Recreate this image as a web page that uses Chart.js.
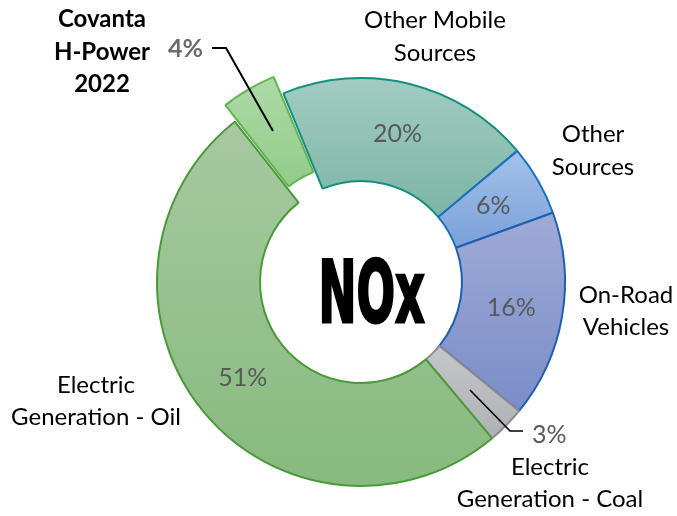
<!DOCTYPE html>
<html>
<head>
<meta charset="utf-8">
<script src="https://cdn.jsdelivr.net/npm/chart.js@4/dist/chart.umd.min.js"></script>
<style>
  html, body { margin: 0; padding: 0; background: #ffffff; }
  #wrap { width: 677px; height: 516px; position: relative; }
</style>
</head>
<body>
<div id="wrap"><canvas id="c" width="677" height="516"></canvas></div>
<script>
// ---- data ----
const categories = ['Covanta H-Power 2022', 'Other Mobile Sources', 'Other Sources', 'On-Road Vehicles', 'Electric Generation - Coal', 'Electric Generation - Oil'];
const labelLines = [['Covanta', 'H-Power', '2022'], ['Other Mobile', 'Sources'], ['Other', 'Sources'], ['On-Road', 'Vehicles'], ['Electric', 'Generation - Coal'], ['Electric', 'Generation - Oil']];
const shares = [4.4, 20.1, 5.6, 16.4, 3.0, 50.5];
const pctLabels = ['4%', '20%', '6%', '16%', '3%', '51%'];
const centerTitle = 'NOx';

// ---- styles ----
const fillTop    = ['#acd9a5', '#a1ccc1', '#a4c1ea', '#9fabd8', '#c5c6c9', '#a7c9a1'];
const fillBottom = ['#90cc86', '#7cb5a5', '#79a1d9', '#7a8dc7', '#b0b1b5', '#87ba7e'];
const borderCols = ['#62b552', '#13907f', '#1d6fbf', '#1f5fae', '#8a8b8e', '#4a9a3c'];
const RADIUS = 204;
const CUT = 0.495;
const ROTATION = -38.2;

function sliceFill(c) {
  const chart = c.chart, a = chart.chartArea, i = c.dataIndex;
  if (i === undefined) return '#cccccc';
  if (!a) return fillTop[i];
  const cx = (a.left + a.right) / 2, cy = (a.top + a.bottom) / 2;
  const R = RADIUS, r = RADIUS * CUT;
  const tot = shares.reduce((s, v) => s + v, 0);
  let start = ROTATION;
  for (let k = 0; k < i; k++) start += shares[k] / tot * 360;
  const end = start + shares[i] / tot * 360;
  let y0 = Infinity, y1 = -Infinity;
  for (let t = 0; t <= 40; t++) {
    const ang = (start + (end - start) * t / 40 - 90) * Math.PI / 180;
    for (const rr of [r, R]) {
      const y = cy + Math.sin(ang) * rr;
      y0 = Math.min(y0, y); y1 = Math.max(y1, y);
    }
  }
  const g = chart.ctx.createLinearGradient(0, y0, 0, y1);
  g.addColorStop(0, fillTop[i]);
  g.addColorStop(1, fillBottom[i]);
  return g;
}

const labelPlugin = {
  id: 'labels',
  afterDatasetsDraw(chart) {
    const ctx = chart.ctx;
    const a = chart.chartArea;
    const cx = (a.left + a.right) / 2, cy = (a.top + a.bottom) / 2;
    const meta = chart.getDatasetMeta(0);
    ctx.save();
    // inside percentages
    ctx.fillStyle = '#595959';
    ctx.font = '25px Lato';
    ctx.textAlign = 'center';
    ctx.textBaseline = 'middle';
    [1, 2, 3, 5].forEach(i => {
      const el = meta.data[i];
      const mid = (el.startAngle + el.endAngle) / 2;
      const rr = (el.innerRadius + el.outerRadius) / 2;
      ctx.fillText(pctLabels[i], el.x + Math.cos(mid) * rr, el.y + Math.sin(mid) * rr);
    });
    // category labels
    ctx.textBaseline = 'alphabetic';
    ctx.fillStyle = '#000000';
    const spots = [
      [cx - 259, [cy - 255, cy - 222, cy - 190]],
      [cx + 74, [cy - 254, cy - 221]],
      [cx + 232, [cy - 140, cy - 107]],
      [cx + 265, [cy + 21, cy + 53]],
      [cx + 189, [cy + 193, cy + 225]],
      [cx - 265, [cy + 111, cy + 143]]
    ];
    spots.forEach((s, i) => {
      ctx.font = (i === 0 ? 'bold ' : '') + '24px Lato';
      labelLines[i].forEach((ln, j) => ctx.fillText(ln, s[0], s[1][j]));
    });
    // outside percentages
    ctx.textAlign = 'left';
    ctx.font = 'bold 25px Lato';
    ctx.fillStyle = '#6b6b6b';
    ctx.fillText(pctLabels[0], cx - 193, cy - 225);
    ctx.font = '25px Lato';
    ctx.fillStyle = '#595959';
    ctx.fillText(pctLabels[4], cx + 171, cy + 161);
    // leader lines
    ctx.strokeStyle = '#000000';
    ctx.lineWidth = 2;
    ctx.beginPath();
    ctx.moveTo(cx - 149, cy - 234);
    ctx.lineTo(cx - 135, cy - 234);
    ctx.lineTo(cx - 88, cy - 151);
    ctx.stroke();
    ctx.lineWidth = 1.6;
    ctx.beginPath();
    ctx.moveTo(cx + 109, cy + 108);
    ctx.lineTo(cx + 149, cy + 149);
    ctx.lineTo(cx + 162, cy + 149);
    ctx.stroke();
    // center title
    ctx.font = 'bold 86px "DejaVu Sans"';
    ctx.textAlign = 'left';
    ctx.textBaseline = 'alphabetic';
    const w = ctx.measureText(centerTitle).width;
    const target = 106;
    const sx = target / w;
    ctx.translate(cx + 10.5 - target / 2, cy + 40);
    ctx.scale(sx, 1);
    ctx.fillStyle = '#000000';
    ctx.strokeStyle = '#000000';
    ctx.lineJoin = 'miter';
    ctx.lineWidth = 3;
    ctx.fillText(centerTitle, 0, 0);
    ctx.strokeText(centerTitle, 0, 0);
    ctx.restore();
  }
};

new Chart(document.getElementById('c'), {
  type: 'doughnut',
  data: {
    labels: categories,
    datasets: [{
      data: shares,
      backgroundColor: sliceFill,
      borderColor: borderCols,
      borderWidth: 2,
      offset: [44, 0, 0, 0, 0, 0],
      hoverOffset: 0
    }]
  },
  options: {
    responsive: false,
    animation: false,
    rotation: ROTATION,
    radius: RADIUS,
    cutout: (CUT * 100) + '%',
    layout: { padding: { left: 45, top: 48, right: 0, bottom: 0 } },
    plugins: {
      legend: { display: false },
      tooltip: { enabled: false }
    }
  },
  plugins: [labelPlugin]
});
</script>
</body>
</html>
